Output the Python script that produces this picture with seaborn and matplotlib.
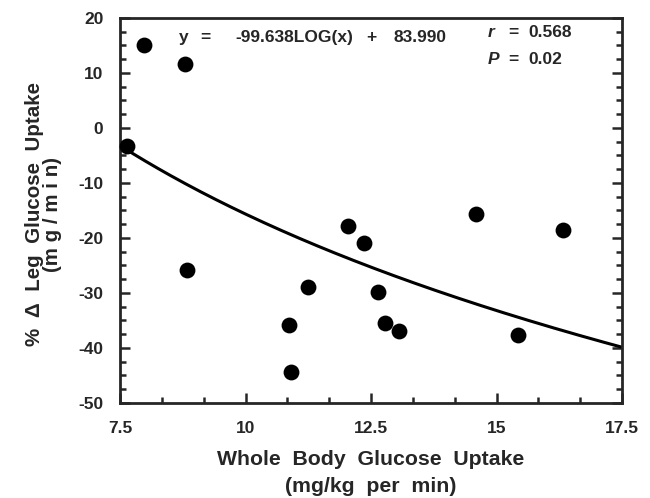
import numpy as np
import pandas as pd
import matplotlib
matplotlib.use('Agg')
import matplotlib.pyplot as plt
from matplotlib.ticker import MultipleLocator
import seaborn as sns

# ── Data ────────────────────────────────────────────────────
whole_body_uptake = [7.98, 8.79, 7.63, 8.84, 10.87, 10.91, 11.25, 12.04,
                     12.36, 12.63, 12.77, 13.06, 14.59, 16.32, 15.43]
leg_uptake_change = [15.1, 11.6, -3.3, -25.9, -35.9, -44.3, -28.9, -17.9,
                     -20.9, -29.9, -35.5, -36.9, -15.6, -18.5, -37.6]

# fitted curve: y = slope*log10(x) + intercept
fit_slope = -99.638
fit_intercept = 83.990

df = pd.DataFrame({'x': whole_body_uptake, 'y': leg_uptake_change})
fit_x = np.linspace(7.5, 17.5, 200)
fit_df = pd.DataFrame({'x': fit_x, 'y': fit_slope * np.log10(fit_x) + fit_intercept})

sns.set_style('ticks')
plt.rcParams['font.family'] = ['Liberation Sans', 'DejaVu Sans']
plt.rcParams['font.weight'] = 'bold'
plt.rcParams['axes.unicode_minus'] = False

fig = plt.figure(figsize=(6.5, 4.98), dpi=100)
ax = fig.add_axes([0.1846, 0.1908, 0.7724, 0.7731])

sns.lineplot(data=fit_df, x='x', y='y', color='black', linewidth=2.2, ax=ax)
sns.scatterplot(data=df, x='x', y='y', color='black', s=130, edgecolor='black',
                linewidth=0, ax=ax, zorder=3, clip_on=False)

ax.set_xlim(7.5, 17.5)
ax.set_ylim(-50, 20)
ax.set_xticks([7.5, 10, 12.5, 15, 17.5])
ax.set_xticklabels(['7.5', '10', '12.5', '15', '17.5'])
ax.xaxis.set_minor_locator(MultipleLocator(2.5 / 3))
ax.yaxis.set_major_locator(MultipleLocator(10))
ax.yaxis.set_minor_locator(MultipleLocator(2.5))

ax.tick_params(axis='both', which='both', direction='in', width=1.8,
               labelsize=12.5)
ax.tick_params(axis='x', which='both', pad=13)
ax.tick_params(axis='y', which='both', pad=12)
ax.tick_params(axis='both', which='major', length=7)
ax.tick_params(axis='both', which='minor', length=4)
ax.tick_params(axis='y', which='both', right=True)
for lab in ax.get_xticklabels() + ax.get_yticklabels():
    lab.set_fontweight('bold')

for sp in ax.spines.values():
    sp.set_linewidth(2)
    sp.set_visible(True)

ax.set_xlabel('Whole  Body  Glucose  Uptake\n(mg/kg  per  min)', fontsize=15.3,
              fontweight='bold', linespacing=1.55, labelpad=10)
ax.set_ylabel('%  \u0394  Leg  Glucose  Uptake\n(m g / m i n)', fontsize=14.8,
              fontweight='bold', linespacing=0.92, labelpad=11)
ax.yaxis.set_label_coords(-0.116, 0.49)

# fit equation, placed piece by piece like the original
eq_y = 0.948
for xpos, txt in [(0.1175, 'y'), (0.159, '='), (0.229, '-99.638LOG(x)'),
                  (0.490, '+'), (0.544, '83.990')]:
    ax.text(xpos, eq_y, txt, transform=ax.transAxes, fontsize=12.5,
            fontweight='bold', va='center', ha='left')

for ypos, sym, val in [(0.961, 'r', '0.568'), (0.891, 'P', '0.02')]:
    ax.text(0.733, ypos, sym, transform=ax.transAxes, fontsize=12.5,
            fontweight='bold', fontstyle='italic', va='center', ha='left')
    ax.text(0.773, ypos, '=', transform=ax.transAxes, fontsize=12.5,
            fontweight='bold', va='center', ha='left')
    ax.text(0.813, ypos, val, transform=ax.transAxes, fontsize=12.5,
            fontweight='bold', va='center', ha='left')

plt.savefig('out.png', dpi=100)
